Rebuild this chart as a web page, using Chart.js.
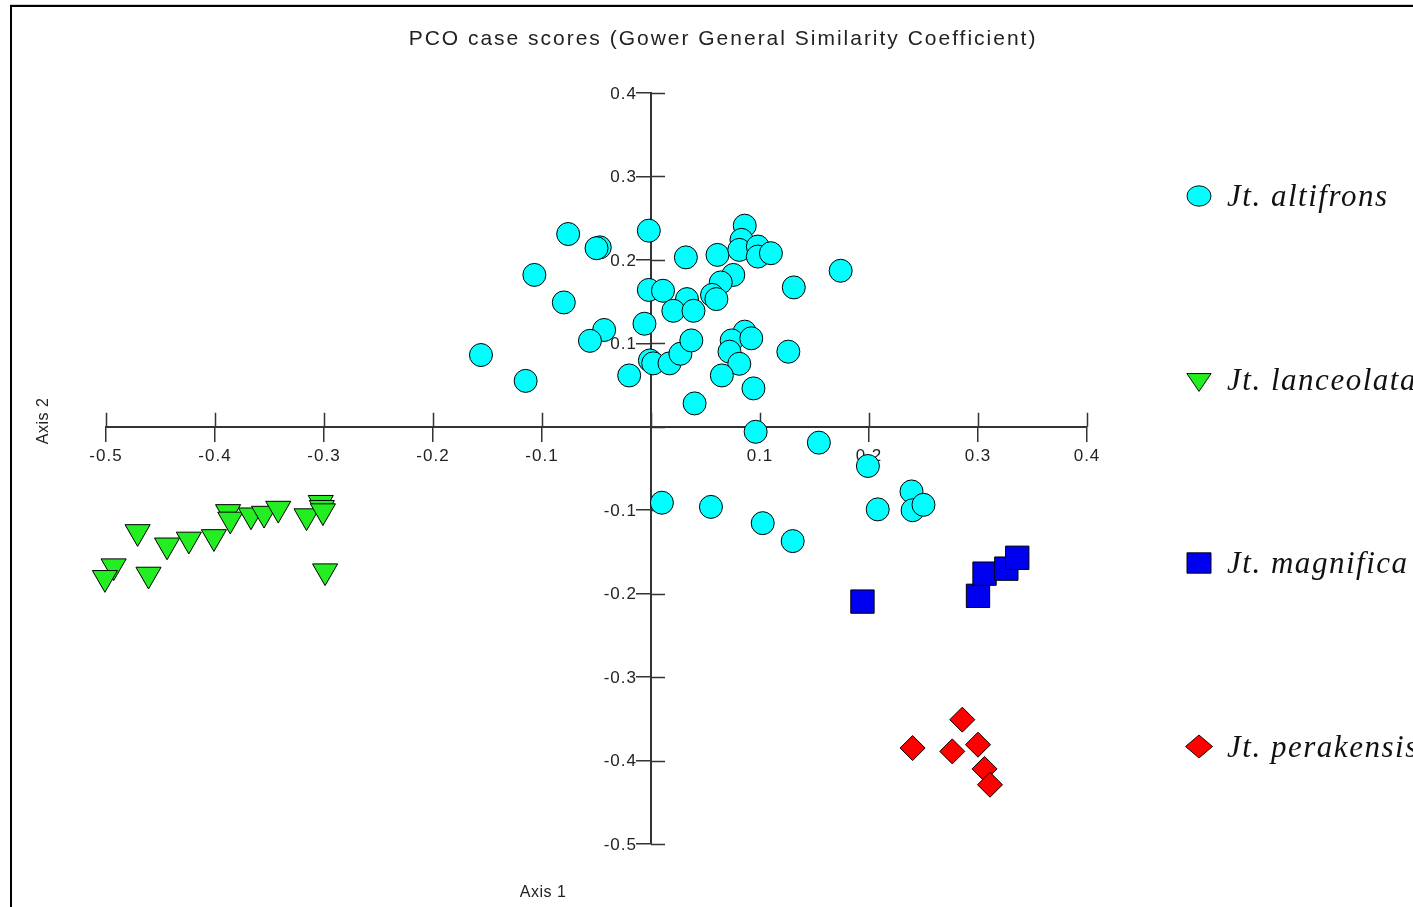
<!DOCTYPE html>
<html><head><meta charset="utf-8">
<script src="https://cdn.jsdelivr.net/npm/chart.js@4"></script>
<style>
html,body{margin:0;padding:0;background:#fff;overflow:hidden}
#wrap{position:relative;width:1413px;height:907px;overflow:hidden}
#frame{position:absolute;left:10px;top:5px;width:1500px;height:1000px;border-top:2px solid #000;border-left:2px solid #000;box-shadow:0 -1px 0 #d0d0d0}
canvas{position:absolute;left:0;top:0}
</style></head>
<body><div id="wrap"><div id="frame"></div><canvas id="c" width="1413" height="907"></canvas></div>
<script>
const chartTitle = 'PCO case scores (Gower General Similarity Coefficient)';
const xAxisTitle = 'Axis 1';
const yAxisTitle = 'Axis 2';
const seriesNames = ['Jt. altifrons', 'Jt. lanceolata', 'Jt. magnifica', 'Jt. perakensis'];

const xTickValues = [-0.5, -0.4, -0.3, -0.2, -0.1, 0, 0.1, 0.2, 0.3, 0.4];
const yTickValues = [-0.5, -0.4, -0.3, -0.2, -0.1, 0, 0.1, 0.2, 0.3, 0.4];

const altifronsX = [-0.076, -0.047, -0.050, -0.002, 0.032, 0.061, 0.086, 0.083, 0.081, 0.098, 0.098, 0.110, 0.174, -0.107, 0.0755, 0.064, 0.131, -0.002, 0.011, -0.080, 0.056, 0.060, 0.033, 0.0205, 0.039, -0.006, -0.043, -0.056, -0.156, -0.115, -0.020, -0.001, 0.002, 0.017, 0.027, 0.037, 0.086, 0.074, 0.092, 0.072, 0.081, 0.126, 0.065, 0.094, 0.040, 0.096, 0.154, 0.199, 0.239, 0.240, 0.250, 0.208, 0.1025, 0.130, 0.010, 0.055];
const altifronsY = [0.231, 0.215, 0.214, 0.235, 0.203, 0.206, 0.241, 0.224, 0.212, 0.216, 0.204, 0.208, 0.187, 0.182, 0.182, 0.173, 0.167, 0.164, 0.163, 0.149, 0.158, 0.153, 0.153, 0.139, 0.139, 0.1235, 0.116, 0.103, 0.086, 0.055, 0.0615, 0.0795, 0.076, 0.076, 0.0875, 0.1035, 0.114, 0.1035, 0.106, 0.090, 0.0755, 0.090, 0.0615, 0.046, 0.028, -0.006, -0.019, -0.047, -0.0775, -0.100, -0.0935, -0.099, -0.1155, -0.137, -0.091, -0.096];

const lanceolataX = [-0.471, -0.493, -0.501, -0.461, -0.444, -0.424, -0.401, -0.388, -0.386, -0.367, -0.355, -0.342, -0.316, -0.303, -0.302, -0.301, -0.299];
const lanceolataY = [-0.126, -0.167, -0.181, -0.177, -0.142, -0.135, -0.132, -0.102, -0.111, -0.106, -0.104, -0.098, -0.107, -0.091, -0.097, -0.101, -0.173];

const magnificaX = [0.194, 0.300, 0.306, 0.326, 0.336];
const magnificaY = [-0.2095, -0.2026, -0.176, -0.170, -0.157];

const perakensisX = [0.2856, 0.240, 0.2764, 0.300, 0.306, 0.311];
const perakensisY = [-0.351, -0.385, -0.389, -0.381, -0.410, -0.429];

const toPoints = (xs, ys) => xs.map((v, i) => ({x: v, y: ys[i]}));

const textFont = '"Liberation Sans", Arial, sans-serif';
const tickFont = {family: textFont, size: 17};

const extras = {
  id: 'extras',
  beforeDraw(chart) {
    chart.ctx.letterSpacing = '1px';
  },
  beforeDatasetsDraw(chart) {
    const {ctx, scales: {x, y}} = chart;
    const x0 = x.getPixelForValue(0), y0 = y.getPixelForValue(0);
    ctx.save();
    ctx.strokeStyle = '#333';
    ctx.lineWidth = 1.5;
    ctx.beginPath();
    const tlx = x.options.grid.tickLength, tly = y.options.grid.tickLength;
    x.ticks.forEach(t => { const p = Math.round(x.getPixelForValue(t.value)) + 0.5; ctx.moveTo(p, y0); ctx.lineTo(p, y0 - tlx); });
    y.ticks.forEach(t => { const p = Math.round(y.getPixelForValue(t.value)) + 0.5; ctx.moveTo(x0, p); ctx.lineTo(x0 + tly, p); });
    ctx.stroke();
    // y tick labels, placed to the left of the tick marks
    ctx.fillStyle = '#222';
    ctx.font = tickFont.size + 'px ' + textFont;
    ctx.textAlign = 'right';
    ctx.textBaseline = 'middle';
    ctx.letterSpacing = '1px';
    y.ticks.forEach(t => {
      const lbl = tickFmt(t.value);
      if (lbl) ctx.fillText(lbl, x0 - tly + 0, y.getPixelForValue(t.value) + 1);
    });
    ctx.restore();
  },
  afterDraw(chart) {
    const {ctx} = chart;
    ctx.save();
    ctx.fillStyle = '#222';
    // title
    ctx.font = '21px ' + textFont;
    ctx.textAlign = 'center';
    ctx.textBaseline = 'middle';
    ctx.letterSpacing = '0px';
    const tw = ctx.measureText(chartTitle).width;
    const ls = Math.max(0, (627 - tw) / (chartTitle.length - 1));
    ctx.letterSpacing = ls.toFixed(2) + 'px';
    ctx.fillText(chartTitle, 722 + ls / 2, 39);
    // axis titles
    ctx.letterSpacing = '0.5px';
    ctx.font = '16px ' + textFont;
    ctx.fillText(xAxisTitle, 543, 893);
    ctx.save();
    ctx.translate(44, 421);
    ctx.rotate(-Math.PI / 2);
    ctx.fillText(yAxisTitle, 0, 0);
    ctx.restore();
    // legend
    ctx.font = 'italic 31px "Liberation Serif", "Times New Roman", serif';
    ctx.textAlign = 'left';
    ctx.textBaseline = 'alphabetic';
    ctx.letterSpacing = '0px';
    const lw = ctx.measureText(seriesNames[0]).width;
    const lls = Math.max(0, (160 - lw) / (seriesNames[0].length - 1));
    ctx.letterSpacing = lls.toFixed(2) + 'px';
    chart.data.datasets.forEach((ds, i) => {
      const cy = 196 + i * 183.5;
      ctx.save();
      ctx.translate(1199, cy);
      ctx.scale(1, 0.85);
      ctx.fillStyle = ds.backgroundColor;
      ctx.strokeStyle = ds.borderColor;
      ctx.lineWidth = 1;
      Chart.helpers.drawPoint(ctx, {pointStyle: ds.pointStyle, radius: ds.legendRadius, rotation: ds.rotation || 0, borderWidth: 1}, 0, 0);
      ctx.restore();
      ctx.fillStyle = '#111';
      ctx.fillText(ds.label, 1227, cy + 10);
    });
    ctx.restore();
  }
};

function tickFmt(v) { return Math.abs(v) < 1e-9 ? '' : Number(v).toFixed(1); }

new Chart(document.getElementById('c'), {
  type: 'scatter',
  data: {
    datasets: [
      {label: seriesNames[0], data: toPoints(altifronsX, altifronsY), pointStyle: 'circle', pointRadius: 11.5, legendRadius: 12, backgroundColor: '#00ffff', borderColor: '#000', borderWidth: 1, clip: false},
      {label: seriesNames[1], data: toPoints(lanceolataX, lanceolataY), pointStyle: 'triangle', rotation: 180, pointRadius: 14.5, legendRadius: 14, backgroundColor: '#22ee22', borderColor: '#000', borderWidth: 1, clip: false},
      {label: seriesNames[2], data: toPoints(magnificaX, magnificaY), pointStyle: 'rect', pointRadius: 16.5, legendRadius: 17, backgroundColor: '#0000f0', borderColor: '#000', borderWidth: 1, clip: false},
      {label: seriesNames[3], data: toPoints(perakensisX, perakensisY), pointStyle: 'rectRot', pointRadius: 12.5, legendRadius: 13.5, backgroundColor: '#ff0000', borderColor: '#000', borderWidth: 1, clip: false}
    ]
  },
  options: {
    responsive: false,
    animation: false,
    events: [],
    layout: {padding: {left: 106, right: 326, top: 93, bottom: 63}},
    plugins: {legend: {display: false}, title: {display: false}, tooltip: {enabled: false}},
    scales: {
      x: {
        type: 'linear', min: -0.5, max: 0.4, position: {y: 0},
        afterFit(s) { s.height = 0; },
        afterBuildTicks(s) { s.ticks = xTickValues.map(v => ({value: v})); },
        grid: {drawOnChartArea: false, drawTicks: true, tickLength: 14, color: '#333', lineWidth: 1.5},
        border: {display: true, color: '#333', width: 2},
        ticks: {font: tickFont, color: '#222', padding: 5, maxRotation: 0, autoSkip: false, callback: tickFmt}
      },
      y: {
        type: 'linear', min: -0.5, max: 0.4, position: {x: 0},
        afterFit(s) { s.width = 0; },
        afterBuildTicks(s) { s.ticks = yTickValues.map(v => ({value: v})); },
        grid: {drawOnChartArea: false, drawTicks: true, tickLength: 14, color: '#333', lineWidth: 1.5},
        border: {display: true, color: '#333', width: 2},
        ticks: {display: false, font: tickFont, callback: tickFmt}
      }
    }
  },
  plugins: [extras]
});
</script>
</body></html>
